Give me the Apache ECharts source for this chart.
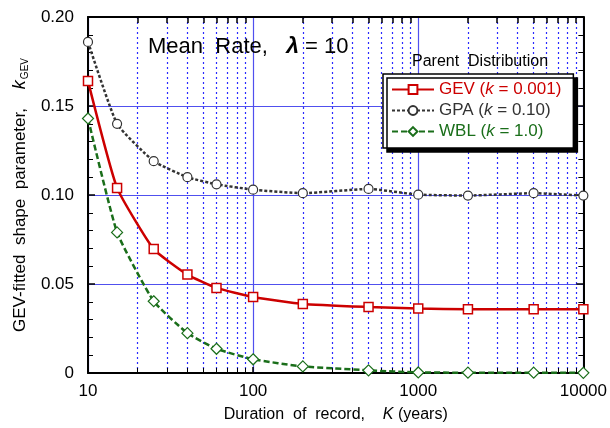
<!DOCTYPE html>
<html>
<head>
<meta charset="utf-8">
<script src="https://cdn.jsdelivr.net/npm/echarts@6/dist/echarts.min.js"></script>
<style>
html,body{margin:0;padding:0;background:#fff;}
#chart{width:610px;height:428px;}
</style>
</head>
<body>
<div id="chart"></div>
<script>
// ---- data ----
var durations = [10, 15, 25, 40, 60, 100, 200, 500, 1000, 2000, 5000, 10000];
var gevValues = [0.164, 0.104, 0.0696, 0.0553, 0.0478, 0.0427, 0.0388, 0.0371, 0.0362, 0.0358, 0.0358, 0.0358];
var gpaValues = [0.186, 0.140, 0.119, 0.110, 0.106, 0.103, 0.101, 0.1034, 0.1002, 0.0997, 0.101, 0.0997];
var wblValues = [0.143, 0.079, 0.0403, 0.0224, 0.0136, 0.0077, 0.0037, 0.0015, 0.0003, 0.0002, 0.0002, 0.0001];
var xTickLabels = [10, 100, 1000, 10000];
var xMinorTicks = [20, 30, 40, 50, 60, 70, 80, 90, 200, 300, 400, 500, 600, 700, 800, 900, 2000, 3000, 4000, 5000, 6000, 7000, 8000, 9000];
var yTicks = [0, 0.05, 0.10, 0.15, 0.20];

function pairs(xs, ys) { return xs.map(function (x, i) { return [x, ys[i]]; }); }

var FONT = 'Liberation Sans';
var BLUE = '#5050ee';
var DOT = '#2a2aff';

var chart = echarts.init(document.getElementById('chart'), null, {renderer: 'canvas'});

var option = {
  backgroundColor: '#fff',
  animation: false,
  textStyle: {fontFamily: FONT},
  title: [{
    text: '{a|Mean  Rate,   }{l|λ}{a| = 10}',
    left: 143, top: 30,
    textStyle: {
      fontWeight: 'normal',
      rich: {
        a: {fontSize: 22, fontFamily: FONT, fontWeight: 'normal', color: '#000'},
        l: {fontSize: 23, fontFamily: FONT, fontStyle: 'italic', fontWeight: 'bold', color: '#000'}
      }
    }
  }, {
    text: 'Parent  Distribution',
    left: 407, top: 49,
    textStyle: {fontSize: 16, fontWeight: 'normal', fontFamily: FONT, color: '#000'}
  }],
  legend: {
    orient: 'vertical',
    left: 383, top: 74,
    padding: [7, 12, 8, 8],
    itemWidth: 42, itemHeight: 11, itemGap: 4,
    backgroundColor: '#fff',
    borderColor: '#000', borderWidth: 1.5, borderRadius: 0,
    shadowColor: '#000', shadowBlur: 0, shadowOffsetX: 4, shadowOffsetY: 4,
    data: ['GEV', 'GPA', 'WBL'],
    formatter: function (name) {
      if (name === 'GEV') return '{r|GEV (}{ri|k}{r| = 0.001)}';
      if (name === 'GPA') return '{g|GPA (}{gi|k}{g| = 0.10)}';
      return '{w|WBL (}{wi|k}{w| = 1.0)}';
    },
    textStyle: {
      fontSize: 17,
      rich: {
        r: {fontSize: 17, fontFamily: FONT, color: '#cc0000'},
        ri: {fontSize: 17, fontFamily: FONT, color: '#cc0000', fontStyle: 'italic'},
        g: {fontSize: 17, fontFamily: FONT, color: '#333'},
        gi: {fontSize: 17, fontFamily: FONT, color: '#333', fontStyle: 'italic'},
        w: {fontSize: 17, fontFamily: FONT, color: '#1a6e1a'},
        wi: {fontSize: 17, fontFamily: FONT, color: '#1a6e1a', fontStyle: 'italic'}
      }
    }
  },
  grid: {left: 88, right: 25, top: 17, bottom: 55, containLabel: false},
  xAxis: [{
    type: 'log', logBase: 10, min: 10, max: 10000, position: 'bottom',
    axisLine: {show: true, lineStyle: {color: '#000', width: 2}},
    axisTick: {show: true, inside: true, length: 6, lineStyle: {color: '#000', width: 1.5}},
    axisLabel: {
      fontSize: 17, color: '#000', fontFamily: FONT, margin: 10,
      customValues: xTickLabels,
      formatter: function (v) { return String(Math.round(v)); }
    },
    splitLine: {show: true, lineStyle: {color: BLUE, width: 1.2}},
    name: '{a|Duration  of  record,    }{i|K}{a| (years)}',
    nameLocation: 'middle', nameGap: 34,
    nameTextStyle: {
      rich: {
        a: {fontSize: 16, fontFamily: FONT, color: '#000'},
        i: {fontSize: 16, fontFamily: FONT, color: '#000', fontStyle: 'italic'}
      }
    }
  }, {
    type: 'log', logBase: 10, min: 10, max: 10000, position: 'bottom',
    axisLine: {show: false},
    axisLabel: {show: false},
    axisTick: {show: true, inside: true, length: 5, customValues: xMinorTicks, lineStyle: {color: '#000', width: 1}},
    splitLine: {show: true, lineStyle: {color: DOT, width: 1.2, type: [2, 3]}}
  }, {
    type: 'log', logBase: 10, min: 10, max: 10000, position: 'top',
    axisLine: {show: true, lineStyle: {color: '#000', width: 2}},
    axisLabel: {show: false},
    axisTick: {show: true, inside: true, length: 6, customValues: xMinorTicks, lineStyle: {color: '#000', width: 1.5}},
    splitLine: {show: false}
  }],
  yAxis: [{
    type: 'value', min: 0, max: 0.2, interval: 0.05, position: 'left',
    axisLine: {show: true, lineStyle: {color: '#000', width: 2}},
    axisTick: {show: true, inside: true, length: 7, lineStyle: {color: '#000', width: 1.5}},
    minorTick: {show: true, splitNumber: 5, length: 5, lineStyle: {color: '#000', width: 1}},
    axisLabel: {
      fontSize: 17, color: '#000', fontFamily: FONT, margin: 14,
      formatter: function (v) { return v === 0 ? '0' : v.toFixed(2); }
    },
    splitLine: {show: true, lineStyle: {color: BLUE, width: 1.2}},
    name: '{a|GEV-fitted  shape  parameter,    }{i|k}{s|GEV}',
    nameLocation: 'middle', nameGap: 57,
    nameTextStyle: {
      rich: {
        a: {fontSize: 17, fontFamily: FONT, color: '#000', lineHeight: 20},
        i: {fontSize: 18, fontFamily: FONT, color: '#000', fontStyle: 'italic', lineHeight: 20},
        s: {fontSize: 10, fontFamily: FONT, color: '#000', lineHeight: 20, verticalAlign: 'bottom', padding: [8, 0, 0, 1]}
      }
    }
  }, {
    type: 'value', min: 0, max: 0.2, interval: 0.05, position: 'right',
    axisLine: {show: true, lineStyle: {color: '#000', width: 2}},
    axisTick: {show: true, inside: true, length: 7, lineStyle: {color: '#000', width: 1.5}},
    minorTick: {show: true, splitNumber: 5, length: 5, lineStyle: {color: '#000', width: 1}},
    axisLabel: {show: false},
    splitLine: {show: false}
  }],
  series: [{
    name: 'GEV', type: 'line', xAxisIndex: 0, yAxisIndex: 0,
    data: pairs(durations, gevValues),
    smooth: 0.15,
    symbol: 'rect', symbolSize: 9,
    lineStyle: {color: '#cc0000', width: 2.5, type: 'solid'},
    itemStyle: {color: '#fff', borderColor: '#cc0000', borderWidth: 1.5},
    z: 5
  }, {
    name: 'GPA', type: 'line', xAxisIndex: 0, yAxisIndex: 0,
    data: pairs(durations, gpaValues),
    smooth: 0.15,
    symbol: 'circle', symbolSize: 9,
    lineStyle: {color: '#333', width: 2.5, type: [3, 2]},
    itemStyle: {color: '#fff', borderColor: '#333', borderWidth: 1.2},
    z: 4
  }, {
    name: 'WBL', type: 'line', xAxisIndex: 0, yAxisIndex: 0,
    data: pairs(durations, wblValues),
    smooth: 0.15,
    symbol: 'diamond', symbolSize: 11,
    lineStyle: {color: '#1a6e1a', width: 2.5, type: [6, 3]},
    itemStyle: {color: '#fff', borderColor: '#1a6e1a', borderWidth: 1.2},
    z: 3
  }]
};
chart.setOption(option);
</script>
</body>
</html>
